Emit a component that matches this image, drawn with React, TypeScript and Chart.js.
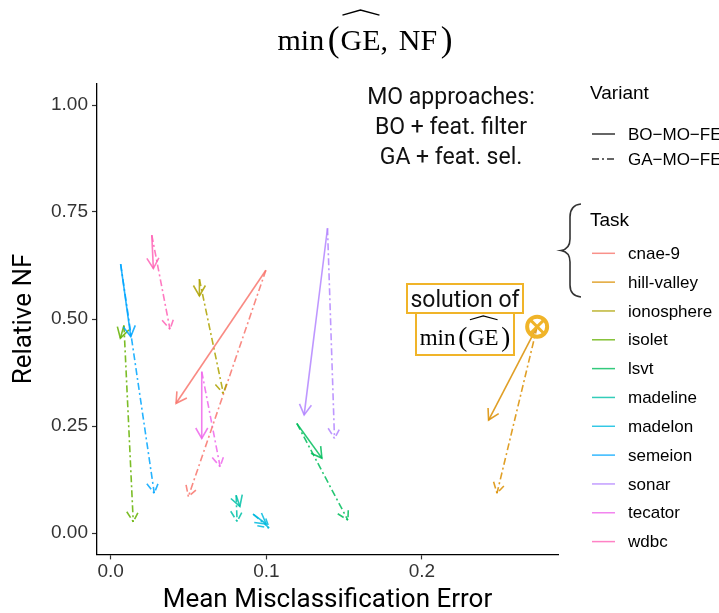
import React, { useEffect, useRef } from 'react';
import { Chart, registerables } from 'chart.js';

Chart.register(...registerables);

// ---- Data ----
const tasks = ['cnae-9', 'hill-valley', 'ionosphere', 'isolet', 'lsvt', 'madeline', 'madelon', 'semeion', 'sonar', 'tecator', 'wdbc'];
const taskColors = ['#F8766D', '#DB8E00', '#AEA200', '#64B200', '#00BD5C', '#00C1A7', '#00BADE', '#00A6FF', '#B385FF', '#EF67EB', '#FF63B6'];
// start point: solution of min(GE)
const startErr = [0.0997, 0.274, 0.057, 0.0085, 0.1196, 0.0806, 0.0915, 0.0064, 0.1393, 0.0585, 0.0264];
const startNF = [0.614, 0.482, 0.593, 0.485, 0.256, 0.088, 0.044, 0.628, 0.712, 0.377, 0.696];
// BO-MO-FE end point
const boErr = [0.042, 0.2428, 0.057, 0.0062, 0.1357, 0.083, 0.0999, 0.0129, 0.1243, 0.0585, 0.0274];
const boNF = [0.303, 0.264, 0.554, 0.455, 0.175, 0.062, 0.021, 0.459, 0.276, 0.221, 0.618];
// GA-MO-FE end point
const gaErr = [0.0499, 0.2482, 0.0724, 0.0145, 0.1524, 0.0812, 0.1018, 0.028, 0.1438, 0.0703, 0.0381];
const gaNF = [0.085, 0.093, 0.326, 0.026, 0.030, 0.027, 0.012, 0.093, 0.221, 0.155, 0.476];

const variants = ['BO\u2212MO\u2212FE', 'GA\u2212MO\u2212FE'];
const xTicks = [0, 0.1, 0.2];
const xTickLabels = ['0.0', '0.1', '0.2'];
const yTicks = [0, 0.25, 0.5, 0.75, 1.0];
const yTickLabels = ['0.00', '0.25', '0.50', '0.75', '1.00'];
const annotationLines = ['MO approaches:', 'BO + feat. filter', 'GA + feat. sel.'];
const highlightTask = 1; // hill-valley

const DASH = [7, 3, 2, 3];
const GOLD = '#F0B429';

function withAlpha(hex: string, a: number) {
  const r = parseInt(hex.slice(1, 3), 16), g = parseInt(hex.slice(3, 5), 16), b = parseInt(hex.slice(5, 7), 16);
  return `rgba(${r},${g},${b},${a})`;
}

function drawMinExpr(ctx: CanvasRenderingContext2D, cx: number, base: number, size: number, extra: string | null, hatGap: number) {
  const serif = '"Liberation Serif", "DejaVu Serif", serif';
  const norm = `${size}px ${serif}`;
  const bigSize = size * 1.18;
  const big = `${bigSize}px ${serif}`;
  type P = { t?: string; f?: string; gap?: number; hat?: boolean; dy?: number };
  const parts: P[] = [
    { t: 'min', f: norm },
    { gap: size * 0.12 },
    { t: '(', f: big, dy: bigSize * 0.04 },
    { gap: size * 0.03 },
    { t: 'GE', f: norm, hat: true },
  ];
  if (extra) {
    parts.push({ t: ',', f: norm });
    parts.push({ gap: size * 0.36 });
    parts.push({ t: extra, f: norm });
  }
  parts.push({ gap: size * 0.12 });
  parts.push({ t: ')', f: big, dy: bigSize * 0.04 });
  let total = 0;
  const widths: number[] = [];
  ctx.save();
  for (const p of parts) {
    if (p.t) {
      ctx.font = p.f!;
      const w = ctx.measureText(p.t).width;
      widths.push(w);
      total += w;
    } else {
      widths.push(p.gap!);
      total += p.gap!;
    }
  }
  let x = cx - total / 2;
  ctx.fillStyle = '#000';
  ctx.textAlign = 'left';
  ctx.textBaseline = 'alphabetic';
  parts.forEach((p, i) => {
    if (p.t) {
      ctx.font = p.f!;
      ctx.fillText(p.t, x, base + (p.dy || 0));
      if (p.hat) {
        const capTop = base - size * 0.662;
        const ends = capTop - hatGap;
        const peak = ends - size * 0.17;
        ctx.beginPath();
        ctx.lineWidth = Math.max(1.2, size * 0.05);
        ctx.strokeStyle = '#000';
        ctx.moveTo(x + 2, ends);
        ctx.lineTo(x + widths[i] / 2, peak);
        ctx.lineTo(x + widths[i] - 1, ends);
        ctx.stroke();
      }
    }
    x += widths[i];
  });
  ctx.restore();
}

const arrowPlugin = {
  id: 'arrowheads',
  afterDatasetsDraw(chart: any) {
    const ctx = chart.ctx as CanvasRenderingContext2D;
    const area = chart.chartArea;
    ctx.save();
    ctx.beginPath();
    ctx.rect(area.left, area.top, area.right - area.left, area.bottom - area.top);
    ctx.clip();
    chart.data.datasets.forEach((ds: any, i: number) => {
      if (!ds.isArrow) return;
      const meta = chart.getDatasetMeta(i);
      const p0 = meta.data[0], p1 = meta.data[1];
      if (!p0 || !p1) return;
      const ang = Math.atan2(p1.y - p0.y, p1.x - p0.x);
      const L = 12, a = Math.PI / 6;
      ctx.strokeStyle = ds.borderColor;
      ctx.lineWidth = ds.borderWidth;
      ctx.setLineDash(ds.borderDash || []);
      ctx.lineCap = 'butt';
      ctx.beginPath();
      ctx.moveTo(p1.x - L * Math.cos(ang - a), p1.y - L * Math.sin(ang - a));
      ctx.lineTo(p1.x, p1.y);
      ctx.lineTo(p1.x - L * Math.cos(ang + a), p1.y - L * Math.sin(ang + a));
      ctx.stroke();
    });
    ctx.restore();
  },
};

const decoPlugin = {
  id: 'decorations',
  afterDraw(chart: any) {
    const ctx = chart.ctx as CanvasRenderingContext2D;
    const xs = chart.scales.x, ys = chart.scales.y;

    // Title
    drawMinExpr(ctx, 365, 50, 30, 'NF', 15);

    // Annotation text
    ctx.save();
    ctx.fillStyle = '#111';
    ctx.font = '23px Roboto';
    ctx.textAlign = 'center';
    ctx.textBaseline = 'alphabetic';
    annotationLines.forEach((t, i) => ctx.fillText(t, 451, 104 + i * 30));
    ctx.restore();

    // "solution of" boxes
    ctx.save();
    ctx.fillStyle = '#fff';
    ctx.strokeStyle = GOLD;
    ctx.lineWidth = 2;
    ctx.fillRect(407, 284, 116, 29);
    ctx.strokeRect(407, 284, 116, 29);
    ctx.fillRect(416, 313, 98, 42);
    ctx.strokeRect(416, 313, 98, 42);
    ctx.fillStyle = '#111';
    ctx.font = '23px Roboto';
    ctx.textAlign = 'center';
    ctx.textBaseline = 'alphabetic';
    ctx.fillText('solution of', 465, 307);
    ctx.restore();
    drawMinExpr(ctx, 465, 345, 23, null, 10);

    // Circle marker on the min(GE) solution of hill-valley
    const cxp = xs.getPixelForValue(startErr[highlightTask]);
    const cyp = ys.getPixelForValue(startNF[highlightTask]);
    ctx.save();
    ctx.strokeStyle = GOLD;
    ctx.lineWidth = 4;
    ctx.beginPath();
    ctx.arc(cxp, cyp, 10, 0, Math.PI * 2);
    ctx.stroke();
    ctx.lineWidth = 3;
    const d = 10 * Math.SQRT1_2;
    ctx.beginPath();
    ctx.moveTo(cxp - d, cyp - d); ctx.lineTo(cxp + d, cyp + d);
    ctx.moveTo(cxp + d, cyp - d); ctx.lineTo(cxp - d, cyp + d);
    ctx.stroke();
    ctx.restore();

    // Legend
    ctx.save();
    ctx.fillStyle = '#000';
    ctx.textAlign = 'left';
    ctx.textBaseline = 'middle';
    ctx.font = '19px "Liberation Sans", Arial, sans-serif';
    ctx.fillText('Variant', 590, 94);
    ctx.fillText('Task', 590, 221);
    ctx.font = '17px "Liberation Sans", Arial, sans-serif';
    variants.forEach((v, i) => {
      const y = 134 + i * 25;
      ctx.strokeStyle = '#333';
      ctx.lineWidth = 1.5;
      ctx.setLineDash(i === 0 ? [] : DASH);
      ctx.beginPath();
      ctx.moveTo(592, y); ctx.lineTo(615, y);
      ctx.stroke();
      ctx.fillStyle = '#000';
      ctx.fillText(v, 628, y + 1);
    });
    ctx.setLineDash([]);
    tasks.forEach((t, i) => {
      const y = 253.3 + i * 28.83;
      ctx.strokeStyle = withAlpha(taskColors[i], 0.8);
      ctx.lineWidth = 1.5;
      ctx.beginPath();
      ctx.moveTo(592, y); ctx.lineTo(615, y);
      ctx.stroke();
      ctx.fillStyle = '#000';
      ctx.fillText(t, 628, y + 1);
    });
    // Brace next to "Task"
    ctx.strokeStyle = '#333';
    ctx.lineWidth = 1.6;
    ctx.beginPath();
    ctx.moveTo(581, 204);
    ctx.quadraticCurveTo(570, 205, 570, 217);
    ctx.lineTo(570, 239);
    ctx.quadraticCurveTo(570, 249, 561, 250.5);
    ctx.quadraticCurveTo(570, 252, 570, 262);
    ctx.lineTo(570, 285);
    ctx.quadraticCurveTo(570, 296, 581, 297);
    ctx.stroke();
    ctx.restore();
  },
};

export default function App() {
  const ref = useRef<HTMLCanvasElement | null>(null);
  useEffect(() => {
    document.body.style.margin = '0';
    const canvas = ref.current!;
    const datasets: any[] = [];
    tasks.forEach((t, i) => {
      const col = withAlpha(taskColors[i], 0.85);
      datasets.push({
        label: `${t} BO`,
        isArrow: true,
        data: [{ x: startErr[i], y: startNF[i] }, { x: boErr[i], y: boNF[i] }],
        borderColor: col,
        borderWidth: 1.6,
        showLine: true,
        pointRadius: 0,
        fill: false,
      });
      datasets.push({
        label: `${t} GA`,
        isArrow: true,
        data: [{ x: startErr[i], y: startNF[i] }, { x: gaErr[i], y: gaNF[i] }],
        borderColor: col,
        borderWidth: 1.6,
        borderDash: DASH,
        showLine: true,
        pointRadius: 0,
        fill: false,
      });
    });
    const tickFont = { family: '"Liberation Sans", Arial, sans-serif', size: 19 };
    const titleFont = { family: 'Roboto, sans-serif', size: 26, lineHeight: 1 };
    const chart = new Chart(canvas, {
      type: 'scatter',
      data: { datasets },
      options: {
        animation: false,
        responsive: false,
        events: [],
        layout: { padding: { left: 0, right: 161, top: 83.6, bottom: 0 } },
        plugins: { legend: { display: false }, tooltip: { enabled: false } },
        scales: {
          x: {
            type: 'linear',
            min: -0.0088,
            max: 0.2874,
            afterBuildTicks: (s: any) => { s.ticks = xTicks.map((v) => ({ value: v })); },
            afterFit: (s: any) => { s.height = 58.6; },
            ticks: {
              font: tickFont,
              color: '#333',
              padding: 1,
              maxRotation: 0,
              callback: (v: any) => xTickLabels[xTicks.indexOf(Number(v))] ?? '',
            },
            grid: { drawOnChartArea: false, drawTicks: true, tickLength: 5, color: '#333', tickWidth: 1.2 },
            border: { display: true, color: '#000', width: 1.3 },
            title: { display: true, text: 'Mean Misclassification Error', font: titleFont, color: '#000', padding: { top: 0, bottom: 0 } },
          },
          y: {
            type: 'linear',
            min: -0.05,
            max: 1.05,
            afterBuildTicks: (s: any) => { s.ticks = yTicks.map((v) => ({ value: v })); },
            afterFit: (s: any) => { s.width = 97; },
            ticks: {
              font: tickFont,
              color: '#333',
              padding: 4,
              callback: (v: any) => yTickLabels[yTicks.indexOf(Number(v))] ?? '',
            },
            grid: { drawOnChartArea: false, drawTicks: true, tickLength: 5, color: '#333', tickWidth: 1.2 },
            border: { display: true, color: '#000', width: 1.3 },
            title: { display: true, text: 'Relative NF', font: titleFont, color: '#000', padding: { top: 11, bottom: 0 } },
          },
        },
      } as any,
      plugins: [arrowPlugin, decoPlugin],
    });
    return () => chart.destroy();
  }, []);
  return (
    <div style={{ width: 719, height: 613, background: '#fff' }}>
      <canvas ref={ref} width={719} height={613} style={{ display: 'block', width: 719, height: 613 }} />
    </div>
  );
}
